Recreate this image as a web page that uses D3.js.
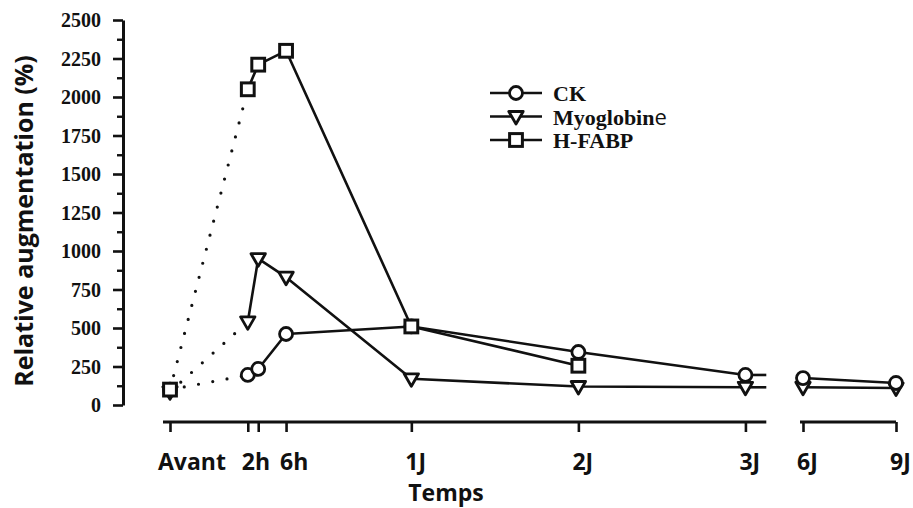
<!DOCTYPE html>
<html><head><meta charset="utf-8">
<script src="https://cdn.jsdelivr.net/npm/d3@7"></script>
<style>
html,body{margin:0;padding:0;background:#fff;}
svg{display:block;}
</style></head>
<body>
<svg id="chart" width="913" height="508"></svg>
<script>
// ---- data ----
const times = [-1, 0.5, 2, 6, 24, 48, 72, 144, 216]; // hours; -1 = "Avant"
const ckValues   = [100, 195, 234, 461, 510, 344, 195, 175, 143];
const myoValues  = [85, 540, 950, 830, 170, 120, 115, 115, 110];
const fabpValues = [100, 2050, 2210, 2300, 510, 255, null, null, null];
const seriesNames = ["CK", "Myoglobine", "H-FABP"];
const tickTimes = [-1, 0.5, 2, 6, 24, 48, 72, 144, 216];
const tickLabelTimes = [-1, 0.5, 6, 24, 48, 72, 144, 216];
const tickLabels = ["Avant", "2h", "6h", "1J", "2J", "3J", "6J", "9J"];
const yTicks = [0, 250, 500, 750, 1000, 1250, 1500, 1750, 2000, 2250, 2500];
const yMinorTicks = [125, 375, 625, 875, 1125, 1375, 1625, 1875, 2125, 2375];

const svg = d3.select("#chart");
svg.append("rect").attr("width", 913).attr("height", 508).attr("fill", "#fff");

// broken time axis: piecewise linear scale
const x = d3.scaleLinear()
  .domain([-1, 0, 75, 144, 216])
  .range([170, 244.3, 766.3, 803, 896]);
const y = d3.scaleLinear().domain([0, 2500]).range([405, 20]);

const ink = "#111";
const sw = 2.6;
const sansFont = "'Open Sans', Lato, sans-serif";
const serifFont = "'Liberation Serif', 'DejaVu Serif', serif";

// ---- Y axis ----
const yAxisG = svg.append("g").attr("transform", "translate(123,0)")
  .call(d3.axisLeft(y).tickValues(yTicks).tickFormat(d3.format("d"))
    .tickSize(10).tickSizeOuter(0).tickPadding(12));
yAxisG.select(".domain").attr("stroke", ink).attr("stroke-width", 3);
yAxisG.selectAll(".tick line").attr("stroke", ink).attr("stroke-width", 2.6);
yAxisG.selectAll(".tick text")
  .attr("font-family", serifFont)
  .attr("font-weight", "bold").attr("font-size", 20).attr("fill", ink).attr("dy", "0.34em");
const yMinorG = svg.append("g").attr("transform", "translate(123,0)")
  .call(d3.axisLeft(y).tickValues(yMinorTicks).tickSize(6).tickSizeOuter(0).tickFormat(""));
yMinorG.select(".domain").remove();
yMinorG.selectAll(".tick line").attr("stroke", ink).attr("stroke-width", 2.4);

svg.append("text")
  .attr("transform", "translate(33,221) rotate(-90)")
  .attr("text-anchor", "middle")
  .attr("font-family", sansFont).attr("font-weight", "bold")
  .attr("font-size", 25).attr("fill", ink)
  .text("Relative augmentation (%)");

// ---- X axis (broken) ----
const xAxisY = 422;
const xAxisG = svg.append("g").attr("transform", `translate(0,${xAxisY})`)
  .call(d3.axisBottom(x).tickValues(tickTimes).tickSize(10).tickSizeOuter(0).tickFormat(""));
xAxisG.select(".domain").remove();
xAxisG.selectAll(".tick line").attr("stroke", ink).attr("stroke-width", 2.6);
const segments = [[x(-1) - 7, x(75)], [x(144) - 3, x(216)]];
svg.selectAll("line.xseg").data(segments).enter().append("line")
  .attr("class", "xseg")
  .attr("x1", d => d[0]).attr("x2", d => d[1])
  .attr("y1", xAxisY).attr("y2", xAxisY)
  .attr("stroke", ink).attr("stroke-width", 3);
svg.selectAll("text.xlab").data(tickLabelTimes).enter().append("text")
  .attr("class", "xlab")
  .attr("x", d => x(d) - (d === -1 ? 12 : 6)).attr("y", 470)
  .attr("text-anchor", "start")
  .attr("font-family", sansFont).attr("font-weight", "bold")
  .attr("font-size", 23).attr("fill", ink)
  .text((d, i) => tickLabels[i]);
svg.append("text").attr("x", 446).attr("y", 501).attr("text-anchor", "middle")
  .attr("font-family", sansFont).attr("font-weight", "bold")
  .attr("font-size", 23).attr("fill", ink).text("Temps");

// ---- series ----
const series = [
  {name: seriesNames[0], values: ckValues, shape: "circle"},
  {name: seriesNames[1], values: myoValues, shape: "triangle"},
  {name: seriesNames[2], values: fabpValues, shape: "square"}
];
const pts = s => times.map((t, i) => ({t, v: s.values[i]})).filter(d => d.v != null);
const line = d3.line().x(d => x(d.t)).y(d => y(d.v));
const plot = svg.append("g");

series.forEach(s => {
  const p = pts(s);
  // dotted link from "Avant" to the first post-sample
  plot.append("path").attr("d", line(p.slice(0, 2)))
    .attr("fill", "none").attr("stroke", ink).attr("stroke-width", 3.2)
    .attr("stroke-linecap", "round").attr("stroke-dasharray", "0 14.5");
  // solid lines in main segment
  const main = p.filter(d => d.t > 0 && d.t <= 72);
  plot.append("path").attr("d", line(main))
    .attr("fill", "none").attr("stroke", ink).attr("stroke-width", sw).attr("stroke-linejoin", "round");
  // continuation stub to axis break
  const last = main[main.length - 1];
  if (last.t === 72) {
    plot.append("path").attr("d", line([last, {t: 75, v: last.v}]))
      .attr("fill", "none").attr("stroke", ink).attr("stroke-width", sw);
  }
  const late = p.filter(d => d.t >= 144);
  if (late.length) {
    plot.append("path").attr("d", line(late))
      .attr("fill", "none").attr("stroke", ink).attr("stroke-width", sw);
  }
});

function marker(g, shape, cx, cy) {
  if (shape === "circle") {
    g.append("circle").attr("cx", cx).attr("cy", cy).attr("r", 6.5)
      .attr("fill", "#fff").attr("stroke", ink).attr("stroke-width", 2.8);
  } else if (shape === "square") {
    g.append("rect").attr("x", cx - 6.4).attr("y", cy - 6.4).attr("width", 12.8).attr("height", 12.8)
      .attr("fill", "#fff").attr("stroke", ink).attr("stroke-width", 3);
  } else {
    const w = 7.2, h = 12.5;
    g.append("path").attr("d", `M${cx - w},${cy - h * 0.4}L${cx + w},${cy - h * 0.4}L${cx},${cy + h * 0.6}Z`)
      .attr("fill", "#fff").attr("stroke", ink).attr("stroke-width", 2.8).attr("stroke-linejoin", "round");
  }
}
[series[1], series[0], series[2]].forEach(s => {
  pts(s).forEach(d => marker(plot, s.shape, x(d.t), y(d.v)));
});

// ---- legend ----
const legend = svg.append("g");
series.forEach((s, i) => {
  const ly = 93 + i * 23.5;
  legend.append("line").attr("x1", 490).attr("x2", 542).attr("y1", ly).attr("y2", ly)
    .attr("stroke", ink).attr("stroke-width", sw);
  marker(legend, s.shape, 516, ly);
  const t = legend.append("text").attr("x", 553).attr("y", ly + 8)
    .attr("font-family", serifFont).attr("font-weight", "bold")
    .attr("font-size", 22).attr("fill", ink);
  if (s.name === "Myoglobine") {
    t.append("tspan").text("Myoglobin");
    t.append("tspan").attr("font-family", "'Open Sans', sans-serif").attr("font-weight", "normal").text("e");
  } else {
    t.text(s.name);
  }
});
</script>
</body></html>
